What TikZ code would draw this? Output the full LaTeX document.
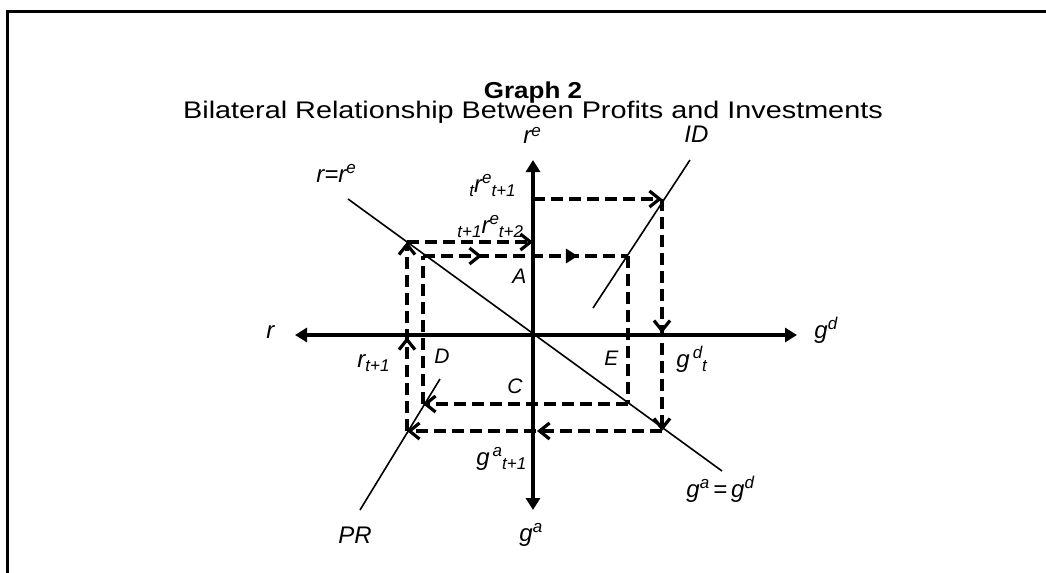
\documentclass[tikz,border=0pt]{standalone}
\usepackage{fontspec}
\usepackage{graphicx}
\setmainfont{Liberation Sans}
\usetikzlibrary{arrows.meta,decorations.markings}
\newcommand\supr[1]{\raisebox{4.5pt}{\fontsize{8.5}{8.5}\selectfont #1}}
\newcommand\subr[1]{\raisebox{-2pt}{\fontsize{8.5}{8.5}\selectfont #1}}
\tikzset{
  barb/.tip={Straight Barb[length=5pt,width=8pt,line width=1.6pt]},
  tri/.tip={Triangle[length=6pt,width=7pt]},
  axisline/.style={line width=1.8pt,{tri}-{tri}},
  curve/.style={line width=0.8pt},
  dline/.style={line width=1.8pt,dash pattern=on 6pt off 3pt},
  midtip/.style={postaction={decorate},decoration={markings,mark=at position #1 with {\arrow{barb}}}},
  lab/.style={font=\fontsize{12}{13}\selectfont\itshape,inner sep=0pt,anchor=base west},
  labs/.style={font=\fontsize{10.5}{12}\selectfont\itshape,inner sep=0pt,anchor=base west},
}
\begin{document}
\begin{tikzpicture}[x=0.5pt,y=-0.5pt]
\useasboundingbox (0,0) rectangle (1046,573);
% frame
\draw[line width=1.5pt] (7,573) -- (7,11) -- (1046,11);
% title
\node[font=\fontsize{11.5}{13}\selectfont\bfseries,anchor=base,inner sep=0pt] (title) at (533,98) {\scalebox{1.13}[1]{Graph 2}};
\node[font=\fontsize{12}{13}\selectfont,anchor=base,inner sep=0pt] (subtitle) at (533,119) {\scalebox{1.2}[1]{Bilateral Relationship Between Profits and Investments}};
% axes
\coordinate (ytop) at (533,160);
\coordinate (ybot) at (533,510);
\coordinate (xl) at (295,335);
\coordinate (xr) at (797,335);
\draw[axisline] (ybot) -- (ytop);
\draw[axisline] (xl) -- (xr);
% curves
\coordinate (rr1) at (348,199);
\coordinate (rr2) at (722,471);
\coordinate (id1) at (690,160);
\coordinate (id2) at (593,308);
\coordinate (pr1) at (440,379);
\coordinate (pr2) at (360,510);
\draw[curve] (rr1) -- (rr2);
\draw[curve] (id1) -- (id2);
\draw[curve] (pr1) -- (pr2);
% outer loop
\coordinate (ya) at (533,199);
\coordinate (p1) at (662,199);
\coordinate (p2) at (662,431);
\coordinate (p3) at (407,431);
\coordinate (p4) at (407,242);
\coordinate (yb) at (533,242);
\draw[dline,-barb] (ya) -- (p1);
\draw[dline,-barb,midtip=0.578] (p1) -- (p2);
\draw[dline,-barb,midtip=0.49] (p2) -- (p3);
\draw[dline,-barb,midtip=0.497] (p3) -- (p4);
\draw[dline,-barb] (p4) -- (yb);
% inner loop
\coordinate (q1) at (423,256);
\coordinate (q2) at (628,256);
\coordinate (q3) at (628,404);
\coordinate (q4) at (423,404);
\draw[dline,postaction={decorate},decoration={markings,
  mark=at position 0.288 with {\arrow{barb}},
  mark=at position 0.756 with {\arrow{tri}}}] (q1) -- (q2);
\draw[dline] (q2) -- (q3);
\draw[dline,-barb] (q3) -- (q4);
\draw[dline] (q4) -- (q1);
% labels
\node[lab] (lre) at (523,143) {r\raisebox{3.5pt}{\fontsize{8.5}{8.5}\selectfont e}};
\node[lab] (lid) at (684,142) {ID};
\node[lab] (lrre) at (316,182) {r=r\supr{e}};
\node[lab] (lt1) at (469,192) {\subr{t}r\supr{e}\subr{t+1}};
\node[lab] (lt2) at (457,233) {\subr{t+1}r\supr{e}\subr{t+2}};
\node[labs] (lA) at (512,283) {A};
\node[lab] (lr) at (266,338) {r};
\node[lab] (lgd) at (814,338) {g\supr{d}};
\node[lab] (lrt) at (357,367) {r\subr{t+1}};
\node[labs] (lD) at (434,363) {D};
\node[labs] (lE) at (604,365) {E};
\node[lab] (lgdt) at (676,367) {g\kern1.5pt\supr{d}\subr{t}};
\node[labs] (lC) at (507,393) {C};
\node[lab] (lga1) at (476,465) {g\kern1.5pt\supr{a}\subr{t+1}};
\node[lab] (lPR) at (338,543) {PR};
\node[lab] (lga) at (519,541) {g\supr{a}};
\node[lab] (lgagd) at (686,497) {g\supr{a}\kern2pt=\kern2pt g\supr{d}};
\end{tikzpicture}
\end{document}
